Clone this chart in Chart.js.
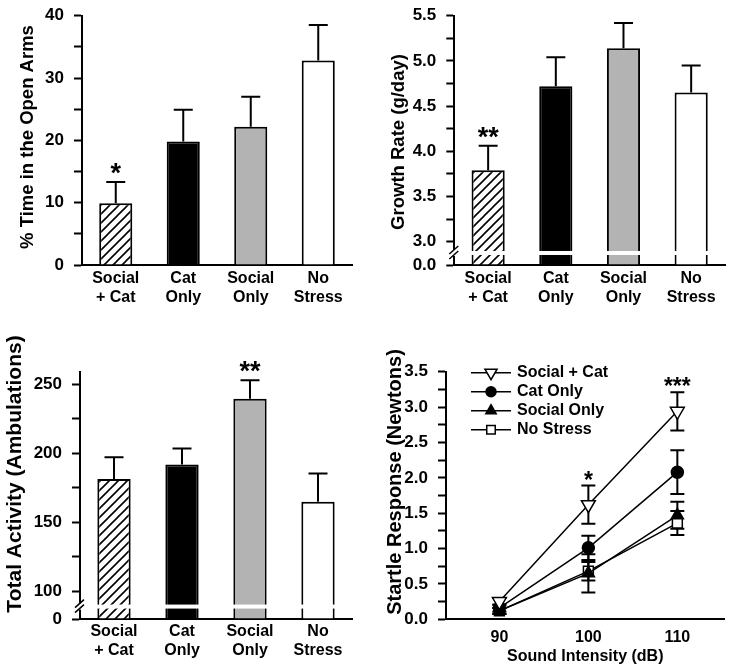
<!DOCTYPE html>
<html>
<head>
<meta charset="utf-8">
<script src="https://cdn.jsdelivr.net/npm/chart.js@4.4.1/dist/chart.umd.min.js"></script>
<style>
  body { margin: 0; background: #fff; }
  .panel { position: absolute; }
</style>
</head>
<body>
<div class="panel" style="left:0;top:0"><canvas id="openArms" width="367" height="320"></canvas></div>
<div class="panel" style="left:367px;top:0"><canvas id="growth" width="367" height="320"></canvas></div>
<div class="panel" style="left:0;top:320px"><canvas id="activity" width="367" height="351"></canvas></div>
<div class="panel" style="left:367px;top:320px"><canvas id="startle" width="367" height="351"></canvas></div>
<script>
// groups on the bar panels
const groups = [["Social", "+ Cat"], ["Cat", "Only"], ["Social", "Only"], ["No", "Stress"]];

const openArmsMean = [9.9, 19.8, 22.2, 32.8];
const openArmsSem = [3.4, 5.1, 4.8, 5.7];
const openArmsStars = ["*", "", "", ""];
const openArmsTicks = [0, 10, 20, 30, 40];

const growthMean = [3.79, 4.72, 5.14, 4.65];
const growthSem = [0.27, 0.32, 0.28, 0.30];
const growthStars = ["**", "", "", ""];
const growthTicks = [3.0, 3.5, 4.0, 4.5, 5.0, 5.5];

const activityMean = [181.4, 191.8, 239.4, 164.8];
const activitySem = [15.7, 11.6, 13.5, 20.5];
const activityStars = ["", "", "**", ""];
const activityTicks = [100, 150, 200, 250];

// startle
const intensity = [90, 100, 110];
const intensityTicks = [90, 100, 110];
const startleTicks = [0, 0.5, 1.0, 1.5, 2.0, 2.5, 3.0, 3.5];
const socialCat = [0.25, 1.62, 2.94];
const socialCatSem = [0.05, 0.27, 0.27];
const socialCatStars = ["", "*", "***"];
const catOnly = [0.16, 1.01, 2.08];
const catOnlySem = [0.05, 0.17, 0.31];
const socialOnly = [0.12, 0.65, 1.47];
const socialOnlySem = [0.04, 0.27, 0.19];
const noStress = [0.12, 0.68, 1.36];
const noStressSem = [0.04, 0.13, 0.17];

const FAMILY = "'Liberation Sans', Arial, Helvetica, sans-serif";
Chart.defaults.font.family = FAMILY;
Chart.defaults.color = "#000";
const bold = (size, lh) => ({ family: FAMILY, size: size, weight: "bold", lineHeight: lh || 1.2 });

function hatch() {
  const c = document.createElement("canvas");
  c.width = 9; c.height = 9;
  const g = c.getContext("2d");
  g.fillStyle = "#fff";
  g.fillRect(0, 0, 9, 9);
  g.strokeStyle = "#000";
  g.lineWidth = 1.6;
  g.beginPath();
  g.moveTo(-1, 10); g.lineTo(10, -1);
  g.moveTo(-1, 1); g.lineTo(1, -1);
  g.moveTo(8, 10); g.lineTo(10, 8);
  g.stroke();
  return g.createPattern(c, "repeat");
}
const fills = [hatch(), "#000", "#b3b3b3", "#fff"];

// majors labelled, midpoints as unlabelled minor ticks, optional broken-axis zero
function tickList(majors, fmt, brokenMin, zeroLabel) {
  const list = [];
  if (brokenMin !== undefined) list.push({ value: brokenMin, label: zeroLabel });
  majors.forEach((v, i) => {
    list.push({ value: v, label: fmt(v) });
    if (i < majors.length - 1) list.push({ value: (v + majors[i + 1]) / 2, label: "" });
  });
  return list;
}

// keep the plot area where the layout padding puts it
function noEdgePadding(s) {
  s.paddingTop = 0; s.paddingBottom = 0; s.paddingLeft = 0; s.paddingRight = 0;
}

function yScale(min, max, list, width) {
  return {
    min: min, max: max,
    afterBuildTicks: s => { s.ticks = list.map(t => ({ value: t.value })); },
    afterFit: s => { s.width = width; noEdgePadding(s); },
    ticks: {
      autoSkip: false, padding: 10, font: bold(17), color: "#000",
      callback: v => { const t = list.find(t => Math.abs(t.value - v) < 1e-9); return t ? t.label : ""; }
    },
    grid: { drawOnChartArea: false, drawTicks: true, tickLength: 8, tickWidth: 2, tickColor: "#000", color: "#000" },
    border: { color: "#000", width: 2 }
  };
}

const errorBars = {
  id: "errorBars",
  beforeDatasetsDraw(chart, args, o) { if (o.behind) drawErrors(chart, o); },
  afterDatasetsDraw(chart, args, o) { if (!o.behind) drawErrors(chart, o); }
};
function drawErrors(chart, o) {
  const ctx = chart.ctx, y = chart.scales.y;
  chart.data.datasets.forEach((ds, i) => {
    if (!ds.errors) return;
    const meta = chart.getDatasetMeta(i);
    meta.data.forEach((el, j) => {
      const v = meta.controller.getParsed(j).y, e = ds.errors[j];
      const top = y.getPixelForValue(v + e);
      const bot = y.getPixelForValue(o.both ? v - e : v);
      ctx.save();
      ctx.strokeStyle = "#000";
      ctx.lineWidth = o.width;
      ctx.beginPath();
      ctx.moveTo(el.x, bot); ctx.lineTo(el.x, top);
      ctx.moveTo(el.x - o.cap, top); ctx.lineTo(el.x + o.cap, top);
      if (o.both) { ctx.moveTo(el.x - o.cap, bot); ctx.lineTo(el.x + o.cap, bot); }
      ctx.stroke();
      ctx.restore();
    });
  });
}

const stars = {
  id: "stars",
  afterDatasetsDraw(chart, args, o) {
    const ctx = chart.ctx, y = chart.scales.y;
    chart.data.datasets.forEach((ds, i) => {
      if (!ds.stars) return;
      const meta = chart.getDatasetMeta(i);
      meta.data.forEach((el, j) => {
        if (!ds.stars[j]) return;
        const v = meta.controller.getParsed(j).y + ds.errors[j];
        ctx.save();
        ctx.font = "bold " + o.size + "px " + FAMILY;
        ctx.textAlign = "center";
        ctx.textBaseline = "alphabetic";
        ctx.fillStyle = "#000";
        ctx.fillText(ds.stars[j], el.x, y.getPixelForValue(v) - o.lift);
        ctx.restore();
      });
    });
  }
};

const axisBreak = {
  id: "axisBreak",
  afterDatasetsDraw(chart, args, o) {
    if (o.value === undefined) return;
    const ctx = chart.ctx, a = chart.chartArea;
    const yb = chart.scales.y.getPixelForValue(o.value);
    ctx.save();
    ctx.fillStyle = "#fff";
    ctx.fillRect(a.left + 2, yb - 2, a.right - a.left - 2, 4);
    ctx.fillRect(a.left - 2, yb - 3, 4, 6);
    ctx.strokeStyle = "#000";
    ctx.lineWidth = 1.5;
    ctx.beginPath();
    ctx.moveTo(a.left - 5, yb + 1); ctx.lineTo(a.left + 4, yb - 7);
    ctx.moveTo(a.left - 5, yb + 6); ctx.lineTo(a.left + 4, yb - 2);
    ctx.stroke();
    ctx.restore();
  }
};

const yTitle = {
  id: "yTitle",
  afterDraw(chart, args, o) {
    const ctx = chart.ctx;
    ctx.save();
    ctx.translate(o.x, o.y);
    ctx.rotate(-Math.PI / 2);
    ctx.font = "bold " + o.size + "px " + FAMILY;
    ctx.textAlign = "center";
    ctx.textBaseline = "middle";
    ctx.fillStyle = "#000";
    ctx.fillText(o.text, 0, 0);
    ctx.restore();
  }
};

const lineLegend = {
  id: "lineLegend",
  afterDraw(chart, args, o) {
    if (!o.show) return;
    const ctx = chart.ctx, a = chart.chartArea;
    chart.data.datasets.forEach((ds, i) => {
      const yy = a.top + 1 + i * 19;
      ctx.save();
      ctx.strokeStyle = "#000";
      ctx.lineWidth = 1.5;
      ctx.beginPath();
      ctx.moveTo(a.left + 25, yy); ctx.lineTo(a.left + 65, yy);
      ctx.stroke();
      ctx.fillStyle = ds.pointBackgroundColor;
      Chart.helpers.drawPoint(ctx, {
        pointStyle: ds.pointStyle, rotation: ds.pointRotation || 0,
        radius: ds.pointRadius - 1, borderWidth: 1.5
      }, a.left + 45, yy);
      ctx.fillStyle = "#000";
      ctx.font = "bold 16px " + FAMILY;
      ctx.textAlign = "left";
      ctx.textBaseline = "middle";
      ctx.fillText(ds.label, a.left + 71, yy);
      ctx.restore();
    });
  }
};

function barPanel(id, cfg) {
  return new Chart(document.getElementById(id), {
    type: "bar",
    data: {
      labels: groups,
      datasets: [{
        data: cfg.mean, errors: cfg.sem, stars: cfg.stars, base: cfg.min,
        backgroundColor: fills, borderColor: "#000", borderWidth: 2,
        categoryPercentage: 1, barPercentage: 0.49
      }]
    },
    options: {
      responsive: false, animation: false,
      layout: { padding: { left: 0, top: cfg.top, right: cfg.right, bottom: 0 } },
      plugins: {
        legend: { display: false }, tooltip: { enabled: false },
        errorBars: { width: 2, cap: 9.5, both: false, behind: false },
        stars: { size: 27, lift: 0 },
        axisBreak: { value: cfg.breakAt },
        yTitle: { text: cfg.title, x: cfg.titleX, y: cfg.titleY, size: cfg.titleSize }
      },
      scales: {
        x: {
          offset: true,
          afterFit: s => { s.height = cfg.xHeight; noEdgePadding(s); },
          grid: { display: false, drawTicks: false },
          border: { color: "#000", width: 2 },
          ticks: { font: bold(16, 1.2), padding: cfg.xPad, color: "#000", maxRotation: 0, autoSkip: false }
        },
        y: yScale(cfg.min, cfg.max, cfg.ticks, cfg.yWidth)
      }
    },
    plugins: [axisBreak, errorBars, stars, yTitle]
  });
}

barPanel("openArms", {
  mean: openArmsMean, sem: openArmsSem, stars: openArmsStars,
  min: 0, max: 40, ticks: tickList(openArmsTicks, v => String(v)),
  title: "% Time in the Open Arms", titleX: 28, titleY: 137, titleSize: 18.5,
  top: 15.7, right: 15, yWidth: 82, xHeight: 55, xPad: 4
});

barPanel("growth", {
  mean: growthMean, sem: growthSem, stars: growthStars,
  min: 2.742, max: 5.5, breakAt: 2.875,
  ticks: tickList(growthTicks, v => v.toFixed(1), 2.742, "0.0"),
  title: "Growth Rate (g/day)", titleX: 32, titleY: 142, titleSize: 18.5,
  top: 15.7, right: 9, yWidth: 87.3, xHeight: 55, xPad: 4
});

barPanel("activity", {
  mean: activityMean, sem: activitySem, stars: activityStars,
  min: 80, max: 259, breakAt: 89,
  ticks: tickList(activityTicks, v => String(v), 80, "0"),
  title: "Total Activity (Ambulations)", titleX: 15, titleY: 154, titleSize: 21,
  top: 51.7, right: 15, yWidth: 80, xHeight: 52, xPad: 3
});

const pts = arr => intensity.map((x, i) => ({ x: x, y: arr[i] }));
const lineDs = (label, arr, sem, style, fill, radius, extra) => Object.assign({
  label: label, data: pts(arr), errors: sem,
  pointStyle: style, pointRadius: radius, pointBackgroundColor: fill,
  pointBorderColor: "#000", pointBorderWidth: 1.5,
  borderColor: "#000", borderWidth: 1.5, tension: 0, fill: false
}, extra || {});

new Chart(document.getElementById("startle"), {
  type: "line",
  data: {
    datasets: [
      lineDs("Social + Cat", socialCat, socialCatSem, "triangle", "#fff", 8, { pointRotation: 180, stars: socialCatStars }),
      lineDs("Cat Only", catOnly, catOnlySem, "circle", "#000", 6),
      lineDs("Social Only", socialOnly, socialOnlySem, "triangle", "#000", 7),
      lineDs("No Stress", noStress, noStressSem, "rect", "#fff", 7)
    ]
  },
  options: {
    responsive: false, animation: false,
    layout: { padding: { left: 0, top: 51.7, right: 9, bottom: 0 } },
    plugins: {
      legend: { display: false }, tooltip: { enabled: false },
      errorBars: { width: 2, cap: 7, both: true, behind: true },
      stars: { size: 23, lift: -2 },
      yTitle: { text: "Startle Response (Newtons)", x: 28, y: 162, size: 20 },
      lineLegend: { show: true }
    },
    scales: {
      x: {
        type: "linear", min: 84, max: 115.3,
        afterBuildTicks: s => { s.ticks = intensityTicks.map(v => ({ value: v })); },
        afterFit: s => { s.height = 51.7; noEdgePadding(s); },
        grid: { display: false, drawTicks: false },
        border: { color: "#000", width: 2 },
        ticks: { font: bold(16), padding: 9, color: "#000", autoSkip: false },
        title: { display: true, text: "Sound Intensity (dB)", font: bold(16), color: "#000", padding: { top: 0, bottom: 5 } }
      },
      y: yScale(0, 3.5, tickList(startleTicks, v => v.toFixed(1)), 79)
    }
  },
  plugins: [errorBars, stars, yTitle, lineLegend]
});
</script>
</body>
</html>
